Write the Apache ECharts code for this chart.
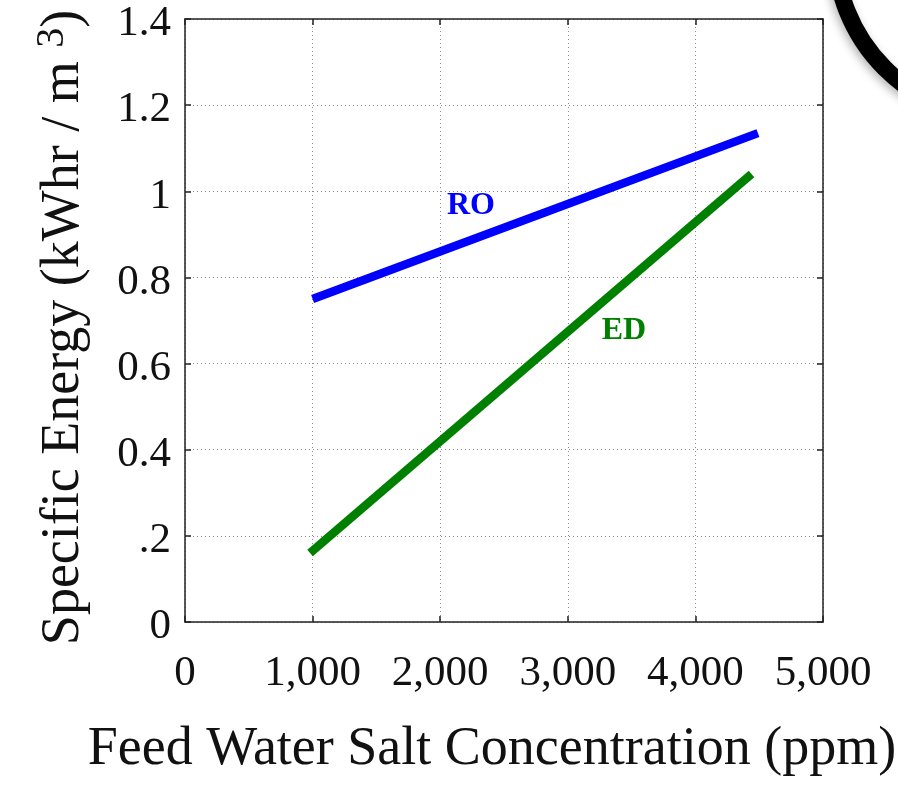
<!DOCTYPE html>
<html>
<head>
<meta charset="utf-8">
<script src="https://cdn.jsdelivr.net/npm/echarts@6/dist/echarts.min.js"></script>
<style>
  html, body { margin: 0; padding: 0; background: #fff; }
  #chart { width: 898px; height: 793px; }
</style>
</head>
<body>
<div id="chart"></div>
<script>
// ---- data ----
const xTickLabels = ['0', '1,000', '2,000', '3,000', '4,000', '5,000'];
const yTickLabels = ['0', '.2', '0.4', '0.6', '0.8', '1', '1.2', '1.4'];
const roData = [[1000, 0.75], [4490, 1.135]];
const edData = [[980, 0.16], [4440, 1.04]];
const roLabel = { name: 'RO', coord: [2241, 0.966] };
const edLabel = { name: 'ED', coord: [3440, 0.676] };

const FONT = 'Liberation Serif';
const chart = echarts.init(document.getElementById('chart'), null, { renderer: 'canvas' });

const axisLineStyle = { color: '#222', width: 1.5 };
const gridLineStyle = { color: '#8a8a8a', width: 1, type: [1, 3] };

function xFmt(v) { const i = Math.round(v / 1000); return xTickLabels[i] !== undefined ? xTickLabels[i] : ''; }
function yFmt(v) { const i = Math.round(v / 0.2); return yTickLabels[i] !== undefined ? '{v|' + yTickLabels[i] + '}' : ''; }

const option = {
  backgroundColor: '#fff',
  animation: false,
  grid: { left: 185, right: 75, top: 19, bottom: 171, containLabel: false, outerBoundsMode: 'none' },
  xAxis: [
    {
      type: 'value', position: 'bottom', min: 0, max: 5000, interval: 1000,
      axisLine: { show: true, onZero: false, lineStyle: axisLineStyle },
      axisTick: { show: true, inside: true, length: 6, lineStyle: axisLineStyle },
      axisLabel: { formatter: xFmt, fontFamily: FONT, fontSize: 43, color: '#111', margin: 30 },
      splitLine: { show: true, lineStyle: gridLineStyle },
      name: 'Feed Water Salt Concentration (ppm)',
      nameLocation: 'middle', nameGap: 101,
      nameTextStyle: { fontFamily: FONT, fontSize: 54, color: '#111', padding: [0, 24, 0, 0] }
    },
    {
      type: 'value', position: 'top', min: 0, max: 5000, interval: 1000,
      axisLine: { show: true, onZero: false, lineStyle: axisLineStyle },
      axisTick: { show: true, inside: true, length: 6, lineStyle: axisLineStyle },
      axisLabel: { show: false }, splitLine: { show: false }
    }
  ],
  yAxis: [
    {
      type: 'value', position: 'left', min: 0, max: 1.4, interval: 0.2,
      axisLine: { show: true, onZero: false, lineStyle: axisLineStyle },
      axisTick: { show: true, inside: true, length: 6, lineStyle: axisLineStyle },
      axisLabel: {
        formatter: yFmt, margin: 14,
        rich: { v: { fontFamily: FONT, fontSize: 43, color: '#111', lineHeight: 43, padding: [10, 0, 0, 0] } }
      },
      splitLine: { show: true, lineStyle: gridLineStyle },
      name: '{a|Specific Energy (kWhr / m }{s|3}{a|)}',
      nameLocation: 'middle', nameGap: 92,
      nameTextStyle: {
        fontFamily: FONT, color: '#111', padding: [0, 14, 0, 0],
        rich: {
          a: { fontFamily: FONT, fontSize: 54, lineHeight: 58, verticalAlign: 'bottom', color: '#111' },
          s: { fontFamily: FONT, fontSize: 40, lineHeight: 40, verticalAlign: 'top', padding: [0, 0, 34, 0], color: '#111' }
        }
      }
    },
    {
      type: 'value', position: 'right', min: 0, max: 1.4, interval: 0.2,
      axisLine: { show: true, onZero: false, lineStyle: axisLineStyle },
      axisTick: { show: true, inside: true, length: 6, lineStyle: axisLineStyle },
      axisLabel: { show: false }, splitLine: { show: false }
    }
  ],
  series: [
    {
      name: 'RO', type: 'line', data: roData, xAxisIndex: 0, yAxisIndex: 0,
      symbol: 'none', lineStyle: { color: '#0000ff', width: 8.5, cap: 'butt' },
      markPoint: {
        symbol: 'circle', symbolSize: 0,
        label: { show: true, position: 'inside', formatter: '{b}', fontFamily: FONT, fontWeight: 'bold', fontSize: 32, color: '#0000ff' },
        data: [roLabel]
      }
    },
    {
      name: 'ED', type: 'line', data: edData, xAxisIndex: 0, yAxisIndex: 0,
      symbol: 'none', lineStyle: { color: '#008000', width: 8.5, cap: 'butt' },
      markPoint: {
        symbol: 'circle', symbolSize: 0,
        label: { show: true, position: 'inside', formatter: '{b}', fontFamily: FONT, fontWeight: 'bold', fontSize: 32, color: '#008000' },
        data: [edLabel]
      }
    }
  ],
  graphic: [
    {
      type: 'circle', z: 100,
      shape: { cx: 1005, cy: -52, r: 170 },
      style: { fill: 'none', stroke: '#000', lineWidth: 17, shadowBlur: 10, shadowColor: 'rgba(0,0,0,0.3)', shadowOffsetX: -2, shadowOffsetY: 3 }
    }
  ]
};
chart.setOption(option);
</script>
</body>
</html>
